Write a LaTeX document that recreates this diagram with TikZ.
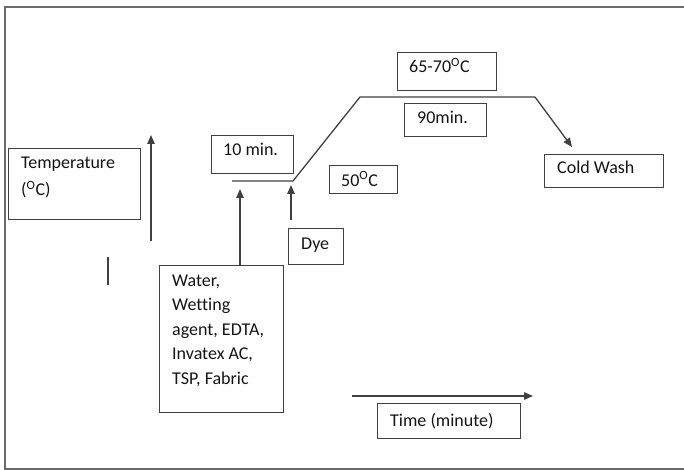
\documentclass[tikz,border=0pt]{standalone}
\usepackage{fontspec}
\setmainfont[Ligatures={NoCommon}]{Carlito}
\usetikzlibrary{arrows.meta}
\definecolor{linec}{HTML}{404040}
\definecolor{framec}{HTML}{6A6A6A}
\begin{document}
\begin{tikzpicture}[x=1pt,y=-1pt,
  box/.style={draw=linec, line width=1.3pt, rectangle, inner sep=0pt, anchor=north west},
  lbl/.style={anchor=base west, inner sep=0pt, font=\fontsize{18}{21}\selectfont, text=black!92},
  ln/.style={draw=linec, line width=1.3pt},
  arr/.style={ln, -{Triangle[length=9pt,width=7.5pt]}}]
\useasboundingbox (0,0) rectangle (684,470);
% outer frame
\coordinate (f1) at (684,7);
\coordinate (f2) at (5,7);
\coordinate (f3) at (5,469);
\coordinate (f4) at (684,469);
\draw[draw=framec, line width=1.5pt] (f1) -- (f2) -- (f3) -- (f4);

% boxes
\node[box, minimum width=132pt, minimum height=71pt] (tbox) at (8,148) {};
\node[box, minimum width=82pt, minimum height=38pt] (tenbox) at (211,135) {};
\node[box, minimum width=68pt, minimum height=28pt] (fiftybox) at (329,165) {};
\node[box, minimum width=55pt, minimum height=36pt] (dyebox) at (288,228) {};
\node[box, minimum width=99pt, minimum height=38pt] (topbox) at (397,52) {};
\node[box, minimum width=82pt, minimum height=33pt] (ninetybox) at (404,103) {};
\node[box, minimum width=119pt, minimum height=33pt] (coldbox) at (544,154) {};
\node[box, minimum width=124pt, minimum height=147pt] (waterbox) at (159,265) {};
\node[box, minimum width=143pt, minimum height=35pt] (timebox) at (377,403) {};

% texts
\node[lbl] (t1) at (21,169) {Temperature};
\node[lbl] (t2) at (21,196) {(\textsuperscript{O}C)};
\node[lbl] (t3) at (223,156) {10 min.};
\node[lbl] (t4) at (341,186) {50\textsuperscript{O}C};
\node[lbl] (t5) at (301,249) {Dye};
\node[lbl] (t6) at (409,73) {65-70\textsuperscript{O}C};
\node[lbl] (t7) at (417,124) {90min.};
\node[lbl] (t8) at (557,174) {Cold Wash};
\node[lbl] (w1) at (172,286) {Water,};
\node[lbl] (w2) at (172,310.5) {Wetting};
\node[lbl] (w3) at (172,335) {agent, EDTA,};
\node[lbl] (w4) at (172,359.5) {Invatex AC,};
\node[lbl] (w5) at (172,384) {TSP, Fabric};
\node[lbl] (t9) at (390,426) {Time (minute)};

% axes
\coordinate (ya0) at (151,241);
\coordinate (ya1) at (151,135);
\draw[arr] (ya0) -- (ya1);
\coordinate (sl0) at (108,257);
\coordinate (sl1) at (108,285);
\draw[ln] (sl0) -- (sl1);
\coordinate (xa0) at (352,396);
\coordinate (xa1) at (533,396);
\draw[arr] (xa0) -- (xa1);

% process profile
\coordinate (h1) at (232,181);
\coordinate (h2) at (293,181);
\coordinate (p1) at (360,97);
\coordinate (p2) at (535,97);
\coordinate (ct) at (572,147);
\draw[ln] (h1) -- (h2) -- (p1) -- (p2);
\draw[arr] (p2) -- (ct);

% additions
\coordinate (wa) at (240,189);
\draw[arr] (wa |- waterbox.north) -- (wa);
\coordinate (da) at (291,185);
\draw[arr, shorten <=8pt] (da |- dyebox.north) -- (da);
\end{tikzpicture}
\end{document}
